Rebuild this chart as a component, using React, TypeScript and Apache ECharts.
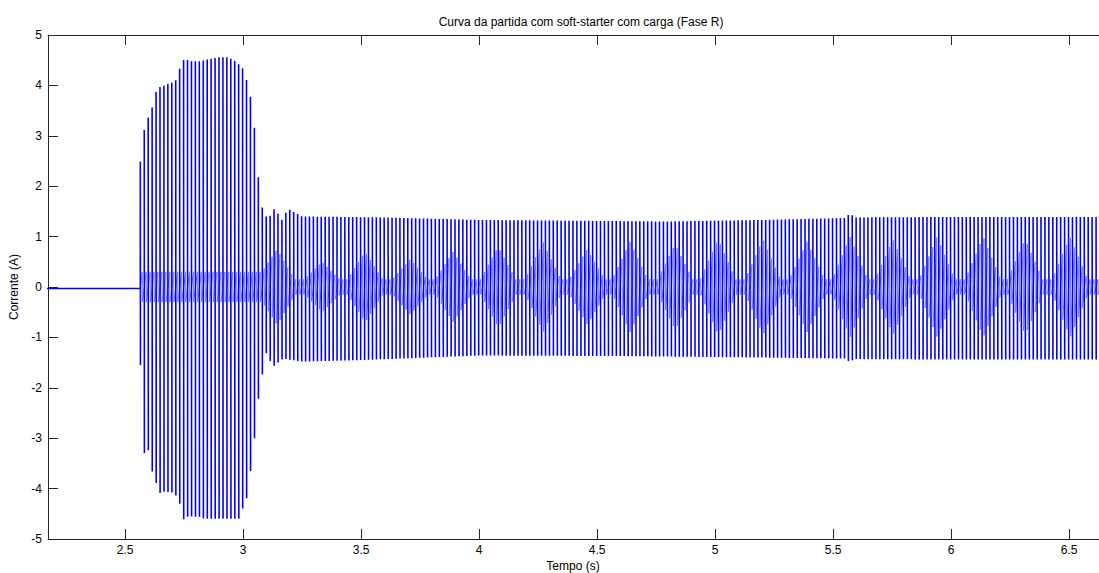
import React, { useEffect, useRef } from "react";
import * as echarts from "echarts";

// ---- texts ----
const chartTitle = "Curva da partida com soft-starter com carga (Fase R)";
const xAxisName = "Tempo (s)";
const yAxisName = "Corrente (A)";

// ---- axes ----
const xMin = 2.1733;
const xMax = 6.627;
const yMin = -5;
const yMax = 5;
const yStep = 1;

// ---- signal ----
const lineFreq = 60; // Hz, mains frequency of the phase current
const startTime = 2.5645; // s, soft-starter switches on
const restLevel = -0.03; // A, current before start

// upper envelope (positive peaks), time (s) / current (A)
const upperT = [2.5645, 2.588, 2.606, 2.62, 2.634, 2.648, 2.669, 2.686, 2.703, 2.72, 2.737, 2.754, 2.771, 2.818, 2.852, 2.9, 2.936, 2.96, 2.987, 3.0, 3.017, 3.038, 3.055, 3.068, 3.085, 3.106, 3.14, 3.157, 3.19, 3.25, 3.6, 4.0, 4.8, 5.2, 5.56, 5.572, 5.585, 6.0, 6.65];
const upperV = [2.49, 3.37, 3.35, 3.7, 3.91, 3.97, 4.0, 4.04, 4.06, 4.12, 4.44, 4.54, 4.48, 4.48, 4.52, 4.56, 4.56, 4.5, 4.4, 4.33, 4.07, 3.63, 2.82, 1.94, 1.47, 1.35, 1.61, 1.27, 1.55, 1.4, 1.38, 1.33, 1.3, 1.33, 1.37, 1.53, 1.38, 1.39, 1.39];

// lower envelope (negative peaks)
const lowerT = [2.5645, 2.581, 2.598, 2.615, 2.632, 2.648, 2.665, 2.703, 2.72, 2.737, 2.75, 2.767, 2.818, 2.835, 2.987, 2.996, 3.013, 3.026, 3.043, 3.06, 3.081, 3.098, 3.127, 3.17, 3.25, 3.5, 4.0, 4.6, 5.2, 5.56, 5.572, 5.585, 6.0, 6.65];
const lowerV = [-1.48, -3.3, -3.23, -3.66, -3.89, -4.09, -4.06, -4.08, -4.16, -4.36, -4.64, -4.55, -4.56, -4.6, -4.6, -4.42, -4.26, -3.83, -3.3, -2.37, -1.75, -1.31, -1.58, -1.42, -1.48, -1.45, -1.36, -1.37, -1.4, -1.42, -1.53, -1.43, -1.44, -1.44];

// inner band near zero: transient part, then beat "diamonds"
const transientBandT = [2.5645, 3.08];
const transientBandV = [0.3, 0.3];
const bandBase = 0.15;
const diamondHalfWidth = 0.075;
const diamondCenters = [3.144, 3.335, 3.517, 3.708, 3.89, 4.081, 4.271, 4.458, 4.64, 4.831, 5.013, 5.203, 5.39, 5.572, 5.754, 5.941, 6.136, 6.314, 6.504];
const diamondHeights = [0.75, 0.5, 0.7, 0.55, 0.7, 0.8, 0.9, 0.75, 0.9, 0.85, 0.95, 0.95, 0.9, 1.0, 0.95, 1.0, 1.0, 0.95, 1.0];

function interp(ts: number[], vs: number[], t: number): number {
  if (t <= ts[0]) return vs[0];
  for (let i = 1; i < ts.length; i++) {
    if (t <= ts[i]) {
      const f = (t - ts[i - 1]) / (ts[i] - ts[i - 1]);
      return vs[i - 1] + f * (vs[i] - vs[i - 1]);
    }
  }
  return vs[vs.length - 1];
}

function buildBand(): { t: number[]; v: number[] } {
  const t = [...transientBandT];
  const v = [...transientBandV];
  diamondCenters.forEach((c, i) => {
    const a = c - diamondHalfWidth;
    if (a > t[t.length - 1]) {
      t.push(a);
      v.push(bandBase);
    }
    t.push(c);
    v.push(diamondHeights[i]);
    t.push(c + diamondHalfWidth);
    v.push(bandBase);
  });
  t.push(7);
  v.push(bandBase);
  return { t, v };
}

type Pt = [number, number] | null;

function buildSignal(): { main: Pt[]; inner: Pt[] } {
  const band = buildBand();
  const main: Pt[] = [];
  const inner: Pt[] = [];
  main.push([xMin - 0.02, restLevel]);
  main.push([startTime, restLevel]);
  const period = 1 / lineFreq;
  const half = period / 2;
  const eps = 0.0006;
  const n = Math.ceil((xMax + 0.02 - startTime) / period);
  for (let k = 0; k < n; k++) {
    const tc = startTime + k * period;
    const U = interp(upperT, upperV, tc);
    const L = interp(lowerT, lowerV, tc + eps);
    const s = interp(band.t, band.v, tc + half);
    main.push([tc, U]);
    main.push([tc + eps, L]);
    main.push(null);
    inner.push([tc + eps, 0]);
    inner.push([tc + half, s]);
    inner.push([tc + half + eps, -s]);
  }
  return { main, inner };
}

const FONT = "'Liberation Sans', Arial, Helvetica, sans-serif";
const AXIS_COLOR = "#262626";

export default function App() {
  const ref = useRef<HTMLDivElement>(null);

  useEffect(() => {
    document.body.style.margin = "0";
    document.body.style.overflow = "hidden";
    if (!ref.current) return;
    const chart = echarts.init(ref.current, null, { renderer: "svg" });
    const { main, inner } = buildSignal();
    const commonX = {
      type: "value" as const,
      min: xMin,
      max: xMax,
      splitNumber: 9,
      splitLine: { show: false },
      axisLine: { show: true, onZero: false, lineStyle: { color: AXIS_COLOR, width: 1 } },
      axisTick: { show: true, inside: true, length: 10, lineStyle: { color: AXIS_COLOR } },
    };
    chart.setOption({
      animation: false,
      backgroundColor: "#ffffff",
      textStyle: { fontFamily: FONT },
      title: {
        text: chartTitle,
        left: 576,
        top: 11,
        textAlign: "center",
        textStyle: { fontFamily: FONT, fontSize: 12, fontWeight: "normal", color: "#000" },
      },
      graphic: [
        {
          type: "text",
          x: 573,
          y: 572,
          silent: true,
          style: {
            text: xAxisName,
            fill: "#000",
            font: "12px 'Liberation Sans', Arial, sans-serif",
            textAlign: "center",
            textVerticalAlign: "bottom",
          },
        },
      ],
      grid: {
        left: 48,
        width: 1051,
        top: 35,
        height: 504,
        containLabel: false,
        outerBoundsMode: "none",
      },
      xAxis: [
        {
          ...commonX,
          position: "bottom",
          axisLabel: {
            show: true,
            margin: 5,
            color: "#000",
            fontFamily: FONT,
            fontSize: 12,
            showMinLabel: false,
            showMaxLabel: false,
            formatter: (v: number) => String(Math.round(v * 10) / 10),
          },
        },
        {
          ...commonX,
          position: "top",
          axisLabel: { show: false },
        },
      ],
      yAxis: {
        type: "value",
        min: yMin,
        max: yMax,
        interval: yStep,
        name: yAxisName,
        nameLocation: "middle",
        nameGap: 17,
        nameRotate: 90,
        nameTextStyle: { fontFamily: FONT, fontSize: 12, color: "#000" },
        splitLine: { show: false },
        axisLine: { show: true, onZero: false, lineStyle: { color: AXIS_COLOR, width: 1 } },
        axisTick: { show: true, inside: true, length: 10, lineStyle: { color: AXIS_COLOR } },
        axisLabel: { color: "#000", fontFamily: FONT, fontSize: 12, margin: 6 },
      },
      series: [
        {
          type: "line",
          data: inner,
          xAxisIndex: 0,
          showSymbol: false,
          symbol: "none",
          clip: true,
          lineStyle: { color: "#7b7bff", width: 1 },
          emphasis: { disabled: true },
        },
        {
          type: "line",
          data: main,
          xAxisIndex: 0,
          showSymbol: false,
          symbol: "none",
          clip: true,
          connectNulls: false,
          lineStyle: { color: "#0000ff", width: 1.6 },
          emphasis: { disabled: true },
        },
      ],
    });
    return () => chart.dispose();
  }, []);

  return (
    <div
      ref={ref}
      style={{ position: "relative", width: 1099, height: 573, background: "#fff" }}
    />
  );
}
